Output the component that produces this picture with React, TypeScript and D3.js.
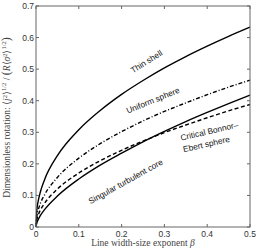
import React, { useRef, useEffect } from 'react';
import * as d3 from 'd3';

const betas = [0, 0.002, 0.005, 0.01, 0.02, 0.05, 0.1, 0.15, 0.2, 0.25, 0.3, 0.35, 0.4, 0.45, 0.5];
const thinShell = [0, 0.054, 0.081, 0.110, 0.150, 0.226, 0.308, 0.369, 0.420, 0.464, 0.504, 0.540, 0.573, 0.604, 0.633];
const uniformSphere = [0, 0.035, 0.053, 0.074, 0.102, 0.157, 0.218, 0.264, 0.302, 0.336, 0.366, 0.393, 0.419, 0.443, 0.465];
const bonnorEbert = [0, 0.023, 0.037, 0.053, 0.075, 0.120, 0.171, 0.210, 0.243, 0.272, 0.299, 0.323, 0.346, 0.368, 0.388];
const singularCore = [0, 0.013, 0.023, 0.036, 0.055, 0.098, 0.152, 0.196, 0.234, 0.270, 0.303, 0.334, 0.363, 0.391, 0.418];

const xTicks = [0, 0.1, 0.2, 0.3, 0.4, 0.5];
const yTicks = [0, 0.1, 0.2, 0.3, 0.4, 0.5, 0.6, 0.7];

const App = () => {
    const svgRef = useRef(null);

    useEffect(() => {
        const svg = d3.select(svgRef.current);
        svg.selectAll('*').remove();

        const left = 36, right = 250, top = 6, bottom = 227;
        const x = d3.scaleLinear().domain([0, 0.5]).range([left, right]);
        const y = d3.scaleLinear().domain([0, 0.7]).range([bottom, top]);
        const axisColor = '#666';
        const sans = 'Liberation Sans, Arial, sans-serif';
        const serif = 'Liberation Serif, Times New Roman, serif';

        // curves
        const series = [
            { values: thinShell, dash: null },
            { values: uniformSphere, dash: '4,2,1,2' },
            { values: bonnorEbert, dash: '4,2.5' },
            { values: singularCore, dash: null },
        ];
        const line = d3.line()
            .x(d => x(d[0]))
            .y(d => y(d[1]))
            .curve(d3.curveMonotoneX);

        series.forEach(s => {
            svg.append('path')
                .datum(betas.map((b, i) => [b, s.values[i]]))
                .attr('d', line)
                .attr('fill', 'none')
                .attr('stroke', '#000')
                .attr('stroke-width', 1.4)
                .attr('stroke-dasharray', s.dash);
        });

        // frame
        svg.append('rect')
            .attr('x', left).attr('y', top)
            .attr('width', right - left).attr('height', bottom - top)
            .attr('fill', 'none').attr('stroke', axisColor).attr('stroke-width', 1);

        const tl = 3;
        xTicks.forEach(t => {
            svg.append('line').attr('x1', x(t)).attr('x2', x(t)).attr('y1', bottom).attr('y2', bottom - tl).attr('stroke', axisColor);
            svg.append('line').attr('x1', x(t)).attr('x2', x(t)).attr('y1', top).attr('y2', top + tl).attr('stroke', axisColor);
            svg.append('text')
                .attr('x', x(t)).attr('y', bottom + 10)
                .attr('text-anchor', 'middle')
                .style('font-family', sans).style('font-size', '8.5px').style('fill', '#333')
                .text(t === 0 ? '0' : d3.format('.1f')(t));
        });
        yTicks.forEach(t => {
            svg.append('line').attr('x1', left).attr('x2', left + tl).attr('y1', y(t)).attr('y2', y(t)).attr('stroke', axisColor);
            svg.append('line').attr('x1', right).attr('x2', right - tl).attr('y1', y(t)).attr('y2', y(t)).attr('stroke', axisColor);
            svg.append('text')
                .attr('x', left - 2).attr('y', y(t) + 3)
                .attr('text-anchor', 'end')
                .style('font-family', sans).style('font-size', '8.5px').style('fill', '#333')
                .text(t === 0 ? '0' : d3.format('.1f')(t));
        });

        // curve labels
        const labels = [
            { text: 'Thin shell', cx: 148, cy: 64, rot: -32 },
            { text: 'Uniform sphere', cx: 154, cy: 103, rot: -22 },
            { text: 'Singular turbulent core', cx: 127, cy: 184, rot: -29 },
            { text: 'Critical Bonnor\u2013', cx: 210, cy: 134, rot: -13 },
            { text: 'Ebert sphere', cx: 207, cy: 147, rot: -13 },
        ];
        labels.forEach(l => {
            svg.append('text')
                .attr('transform', `translate(${l.cx},${l.cy}) rotate(${l.rot})`)
                .attr('text-anchor', 'middle')
                .style('font-family', sans).style('font-size', '8.3px').style('fill', '#111')
                .text(l.text);
        });

        // axis titles
        const xl = svg.append('text')
            .attr('x', (left + right) / 2).attr('y', 246)
            .attr('text-anchor', 'middle')
            .style('font-family', serif).style('font-size', '9.5px').style('fill', '#444');
        xl.append('tspan').text('Line width-size exponent ');
        xl.append('tspan').style('font-style', 'italic').text('\u03B2');

        const yl = svg.append('text')
            .attr('transform', `translate(10,${(top + bottom) / 2 + 1}) rotate(-90)`)
            .attr('text-anchor', 'middle')
            .style('font-family', serif).style('font-size', '9.5px').style('fill', '#444');
        yl.append('tspan').text('Dimensionless rotation: \u27E8');
        yl.append('tspan').style('font-style', 'italic').text('j');
        yl.append('tspan').attr('dy', -3).style('font-size', '6.5px').text('2');
        yl.append('tspan').attr('dy', 3).text('\u27E9');
        yl.append('tspan').attr('dy', -4).style('font-size', '6.5px').text('1/2');
        yl.append('tspan').attr('dy', 4).text(' / ');
        yl.append('tspan').style('font-size', '12px').text('(');
        yl.append('tspan').style('font-style', 'italic').text('R');
        yl.append('tspan').text('\u27E8');
        yl.append('tspan').style('font-style', 'italic').text('\u03C3');
        yl.append('tspan').attr('dy', -3).style('font-size', '6.5px').text('2');
        yl.append('tspan').attr('dy', 3).text('\u27E9');
        yl.append('tspan').attr('dy', -4).style('font-size', '6.5px').text('1/2');
        yl.append('tspan').attr('dy', 4).style('font-size', '12px').text(')');
    }, []);

    return (
        <svg ref={svgRef} width={260} height={250}
            style={{ position: 'absolute', left: 0, top: 0, background: '#fff' }} />
    );
};

export default App;
